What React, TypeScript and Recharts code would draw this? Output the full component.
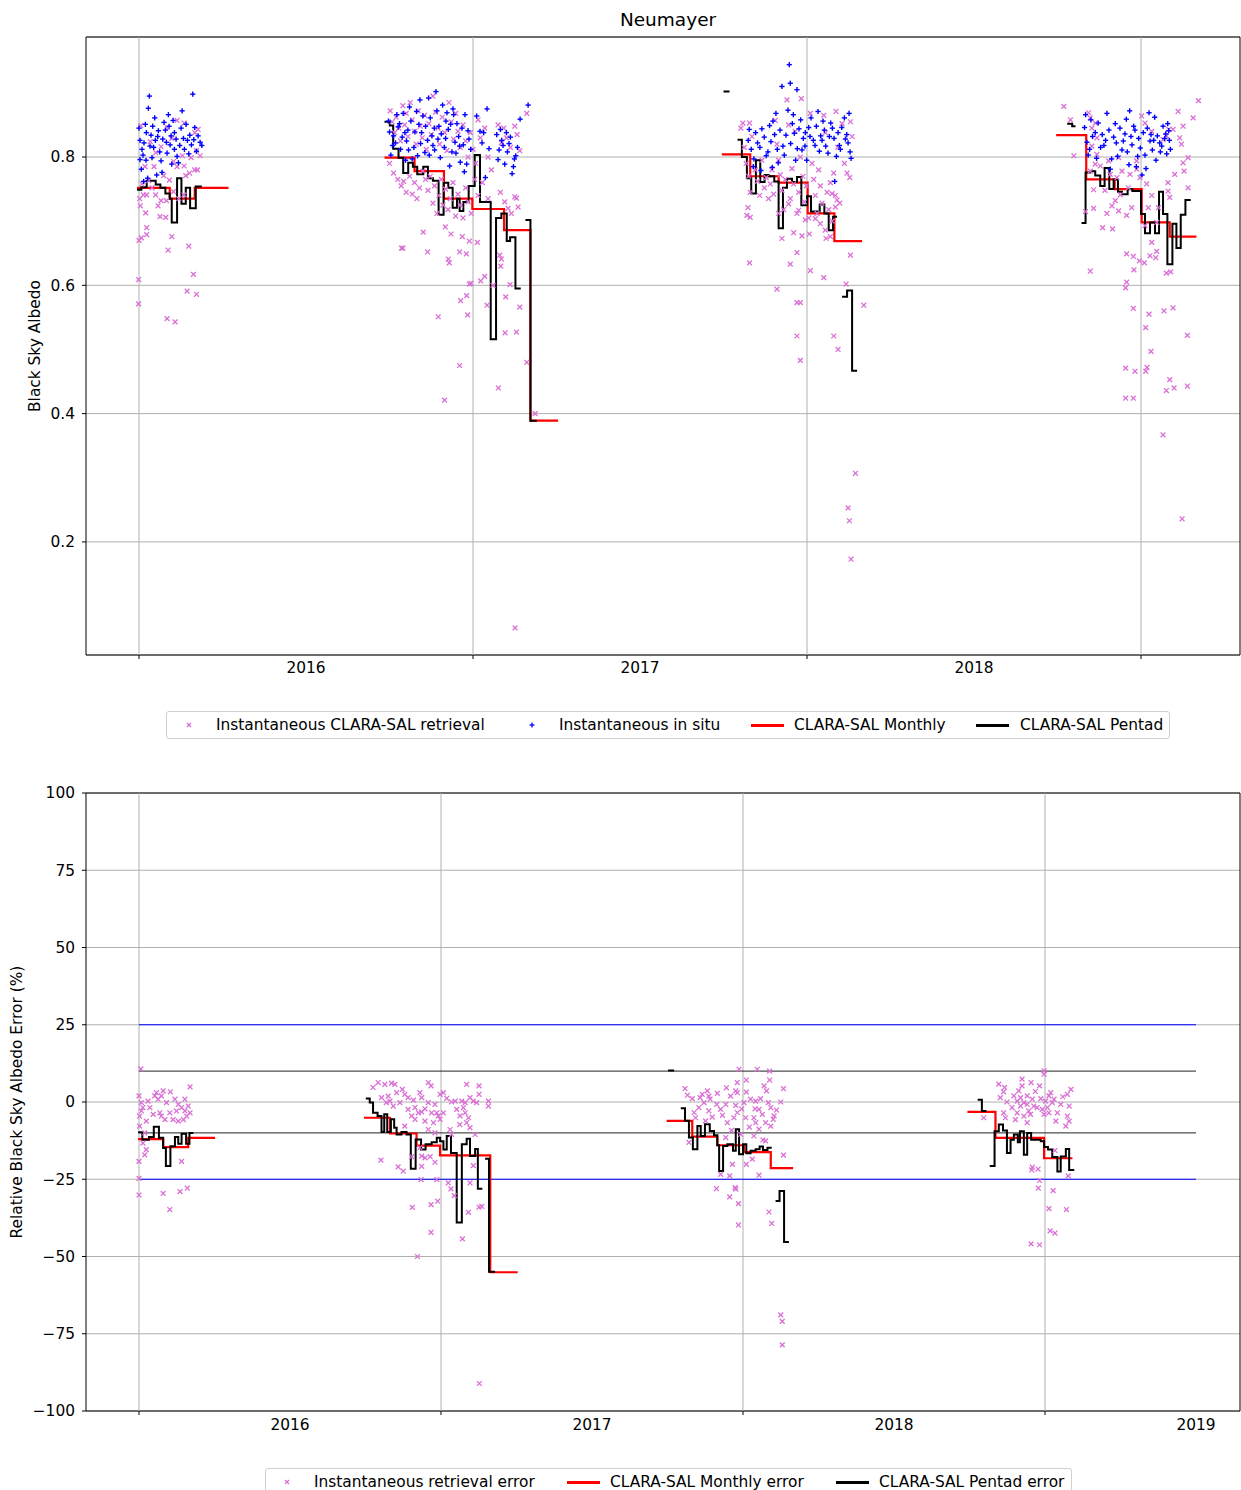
import React from 'react';
import { ComposedChart, XAxis, YAxis, CartesianGrid, Scatter, Line, ReferenceLine, ReferenceArea } from 'recharts';

const FONT = '"DejaVu Sans", "Liberation Sans", sans-serif';
const FS = 15.4;
const MAGENTA = '#da70d6';
const BLUE = '#0000ff';
const RED = '#ff0000';
const BLACK = '#000000';
const GRID = '#b0b0b0';

const TITLE = 'Neumayer';
const topYLabel = 'Black Sky Albedo';
const bottomYLabel = 'Relative Black Sky Albedo Error (%)';

// ---------- axes ----------
const topXDomain = [2015.3413, 2018.7964];
const bottomXDomain = [2015.3245, 2019.1457];
const topYDomain = [0.0237, 0.9871];
const bottomYDomain = [-100, 100];
const topXTicks = [2015.5, 2016, 2016.5, 2017, 2017.5, 2018, 2018.5];
const bottomXTicks = [2015.5, 2016, 2016.5, 2017, 2017.5, 2018, 2018.5, 2019];
const gridYears = [2015.5, 2016.5, 2017.5, 2018.5];
const topYTicks = [0.2, 0.4, 0.6, 0.8];
const bottomYTicks = [-100, -75, -50, -25, 0, 25, 50, 75, 100];

// ---------- top chart: instantaneous CLARA-SAL retrieval ----------
const topRetrieval1 = [
  [2015.505,0.849],[2015.584,0.846],[2015.614,0.857],[2015.635,0.853],[2015.677,0.843],[2015.667,0.838],[2015.683,0.802],[2015.672,0.810],
  [2015.550,0.807],[2015.566,0.816],[2015.518,0.785],[2015.614,0.785],[2015.635,0.786],[2015.651,0.775],[2015.667,0.780],[2015.675,0.780],
  [2015.640,0.771],[2015.603,0.793],[2015.545,0.785],[2015.513,0.741],[2015.502,0.735],[2015.504,0.724],[2015.520,0.713],[2015.523,0.741],
  [2015.557,0.724],[2015.566,0.732],[2015.550,0.741],[2015.582,0.732],[2015.563,0.707],[2015.580,0.706],[2015.523,0.690],[2015.523,0.679],
  [2015.500,0.670],[2015.507,0.674],[2015.598,0.676],[2015.587,0.655],[2015.649,0.661],[2015.663,0.617],[2015.499,0.609],[2015.499,0.571],
  [2015.644,0.591],[2015.672,0.586],[2015.584,0.548],[2015.608,0.543],[2015.534,0.824],[2015.598,0.829],[2015.630,0.802],[2015.656,0.799],
  [2015.539,0.752],[2015.619,0.735],[2015.603,0.746],[2015.635,0.741],[2015.529,0.763],[2015.574,0.771],[2015.509,0.758],[2015.591,0.764],
];
const topRetrieval2 = [
  [2016.252,0.872],[2016.258,0.855],[2016.265,0.838],[2016.270,0.862],[2016.278,0.845],[2016.283,0.825],[2016.290,0.880],[2016.295,0.850],
  [2016.300,0.868],[2016.305,0.832],[2016.312,0.885],[2016.318,0.858],[2016.325,0.840],[2016.330,0.820],[2016.336,0.872],[2016.342,0.848],
  [2016.348,0.830],[2016.355,0.865],[2016.360,0.812],[2016.368,0.852],[2016.375,0.835],[2016.380,0.895],[2016.388,0.870],[2016.395,0.845],
  [2016.400,0.820],[2016.408,0.862],[2016.415,0.838],[2016.422,0.810],[2016.428,0.885],[2016.435,0.855],[2016.442,0.828],[2016.448,0.868],
  [2016.455,0.840],[2016.462,0.815],[2016.470,0.850],[2016.478,0.825],[2016.485,0.800],[2016.492,0.838],[2016.500,0.812],[2016.508,0.790],
  [2016.515,0.858],[2016.522,0.830],[2016.535,0.845],[2016.545,0.800],[2016.555,0.780],[2016.575,0.850],[2016.585,0.822],[2016.592,0.845],
  [2016.600,0.830],[2016.612,0.815],[2016.625,0.848],[2016.632,0.835],[2016.640,0.810],[2016.661,0.868],
  [2016.250,0.790],[2016.262,0.775],[2016.275,0.765],[2016.285,0.755],[2016.292,0.762],[2016.300,0.745],[2016.310,0.770],[2016.318,0.742],
  [2016.325,0.760],[2016.332,0.735],[2016.340,0.752],[2016.350,0.778],[2016.358,0.765],[2016.365,0.748],[2016.372,0.770],[2016.380,0.728],
  [2016.385,0.755],[2016.392,0.712],[2016.398,0.740],[2016.405,0.765],[2016.410,0.725],[2016.418,0.750],[2016.425,0.718],[2016.432,0.735],
  [2016.440,0.760],[2016.448,0.708],[2016.455,0.742],[2016.462,0.725],[2016.470,0.705],[2016.478,0.752],[2016.485,0.730],[2016.495,0.712],
  [2016.505,0.765],[2016.515,0.740],[2016.528,0.760],[2016.545,0.735],[2016.582,0.745],[2016.595,0.730],[2016.605,0.720],[2016.625,0.738],
  [2016.635,0.722],
  [2016.351,0.683],[2016.286,0.658],[2016.290,0.658],[2016.364,0.652],[2016.426,0.641],[2016.429,0.635],[2016.417,0.691],[2016.434,0.680],
  [2016.468,0.676],[2016.489,0.669],[2016.513,0.667],[2016.460,0.652],[2016.480,0.649],[2016.580,0.647],[2016.535,0.614],[2016.523,0.607],
  [2016.489,0.602],[2016.494,0.603],[2016.481,0.584],[2016.463,0.576],[2016.611,0.601],[2016.598,0.582],[2016.542,0.569],[2016.640,0.566],
  [2016.396,0.551],[2016.484,0.554],[2016.596,0.526],[2016.630,0.527],[2016.661,0.480],[2016.460,0.475],[2016.576,0.440],[2016.415,0.421],
  [2016.686,0.400],[2016.626,0.066],[2016.560,0.600],[2016.583,0.630],[2016.585,0.641],[2016.615,0.712],[2016.630,0.736],
];
const topRetrieval3 = [
  [2017.302,0.845],[2017.308,0.853],[2017.328,0.853],[2017.335,0.832],[2017.312,0.815],[2017.318,0.790],[2017.325,0.770],[2017.330,0.745],
  [2017.345,0.780],[2017.352,0.762],[2017.358,0.740],[2017.365,0.795],[2017.372,0.752],[2017.378,0.768],[2017.385,0.735],[2017.390,0.758],
  [2017.395,0.780],[2017.400,0.742],[2017.405,0.857],[2017.410,0.820],[2017.415,0.795],[2017.420,0.772],[2017.425,0.748],[2017.430,0.718],
  [2017.435,0.765],[2017.440,0.889],[2017.445,0.850],[2017.450,0.735],[2017.455,0.782],[2017.460,0.758],[2017.465,0.840],[2017.470,0.712],
  [2017.475,0.745],[2017.480,0.800],[2017.483,0.891],[2017.488,0.770],[2017.492,0.730],[2017.498,0.755],[2017.505,0.705],[2017.510,0.868],
  [2017.515,0.790],[2017.520,0.765],[2017.525,0.740],[2017.530,0.712],[2017.535,0.780],[2017.540,0.755],[2017.545,0.728],[2017.550,0.865],
  [2017.555,0.838],[2017.560,0.745],[2017.565,0.718],[2017.570,0.760],[2017.575,0.700],[2017.580,0.775],[2017.585,0.740],[2017.587,0.871],
  [2017.592,0.815],[2017.598,0.728],[2017.605,0.852],[2017.612,0.790],[2017.620,0.775],[2017.628,0.768],[2017.630,0.855],[2017.635,0.832],
  [2017.323,0.721],[2017.330,0.706],[2017.320,0.709],[2017.425,0.673],[2017.460,0.682],[2017.485,0.677],[2017.507,0.680],[2017.557,0.673],
  [2017.570,0.676],[2017.328,0.635],[2017.410,0.594],[2017.450,0.633],[2017.470,0.651],[2017.510,0.623],[2017.550,0.612],[2017.617,0.602],
  [2017.630,0.647],[2017.670,0.569],[2017.470,0.573],[2017.480,0.573],[2017.470,0.521],[2017.580,0.521],[2017.593,0.500],[2017.480,0.483],
  [2017.645,0.307],[2017.623,0.253],[2017.627,0.233],[2017.632,0.173],[2017.415,0.712],[2017.445,0.727],[2017.475,0.717],[2017.495,0.702],
  [2017.525,0.704],[2017.540,0.696],[2017.555,0.686],[2017.585,0.722],[2017.590,0.733],[2017.575,0.743],
];
const topRetrieval4 = [
  [2018.269,0.879],[2018.672,0.888],[2018.289,0.858],[2018.343,0.869],[2018.348,0.861],[2018.363,0.853],[2018.353,0.845],[2018.368,0.830],
  [2018.353,0.817],[2018.368,0.804],[2018.363,0.789],[2018.348,0.778],[2018.378,0.786],[2018.403,0.794],[2018.433,0.799],[2018.408,0.773],
  [2018.428,0.768],[2018.443,0.778],[2018.467,0.773],[2018.487,0.781],[2018.487,0.794],[2018.502,0.864],[2018.512,0.853],[2018.532,0.840],
  [2018.497,0.768],[2018.517,0.758],[2018.532,0.740],[2018.552,0.721],[2018.522,0.721],[2018.472,0.721],[2018.457,0.709],[2018.433,0.716],
  [2018.413,0.724],[2018.423,0.732],[2018.385,0.690],[2018.415,0.688],[2018.358,0.720],[2018.334,0.715],[2018.358,0.749],[2018.299,0.802],
  [2018.611,0.871],[2018.626,0.848],[2018.656,0.861],[2018.583,0.843],[2018.596,0.843],[2018.576,0.833],[2018.621,0.820],[2018.616,0.830],
  [2018.566,0.827],[2018.641,0.799],[2018.629,0.778],[2018.626,0.791],[2018.601,0.773],[2018.581,0.760],[2018.581,0.747],[2018.586,0.737],
  [2018.641,0.752],[2018.547,0.698],[2018.512,0.693],[2018.532,0.667],[2018.457,0.649],[2018.477,0.645],[2018.495,0.638],[2018.510,0.635],
  [2018.527,0.646],[2018.547,0.653],[2018.544,0.643],[2018.479,0.624],[2018.348,0.622],[2018.576,0.619],[2018.589,0.621],[2018.454,0.596],
  [2018.457,0.605],[2018.477,0.564],[2018.524,0.555],[2018.514,0.534],[2018.530,0.497],[2018.569,0.560],[2018.596,0.565],[2018.639,0.522],
  [2018.454,0.471],[2018.482,0.466],[2018.514,0.466],[2018.518,0.472],[2018.586,0.453],[2018.576,0.436],[2018.599,0.440],[2018.639,0.443],
  [2018.454,0.424],[2018.477,0.424],[2018.566,0.367],[2018.623,0.236],[2018.392,0.748],[2018.438,0.741],[2018.462,0.752],[2018.398,0.712],
];

// ---------- top chart: instantaneous in situ ----------
const topInSitu1 = [
  [2015.512,0.803],[2015.547,0.861],[2015.598,0.789],[2015.531,0.895],[2015.661,0.898],[2015.503,0.826],[2015.579,0.842],[2015.622,0.818],
  [2015.553,0.772],[2015.641,0.851],[2015.507,0.781],[2015.588,0.866],[2015.536,0.834],[2015.672,0.809],[2015.519,0.851],[2015.606,0.838],
  [2015.566,0.794],[2015.629,0.872],[2015.544,0.815],[2015.683,0.823],[2015.500,0.845],[2015.571,0.828],[2015.614,0.801],[2015.526,0.767],
  [2015.652,0.834],[2015.593,0.819],[2015.539,0.799],[2015.667,0.846],[2015.515,0.822],[2015.602,0.857],[2015.558,0.841],[2015.636,0.812],
  [2015.584,0.806],[2015.522,0.838],[2015.677,0.833],[2015.549,0.826],[2015.611,0.828],[2015.509,0.812],[2015.575,0.854],[2015.645,0.826],
  [2015.533,0.817],[2015.562,0.808],[2015.626,0.845],[2015.503,0.796],[2015.596,0.833],[2015.657,0.819],[2015.541,0.848],[2015.618,0.791],
  [2015.569,0.776],[2015.688,0.818],[2015.528,0.876],[2015.582,0.823],[2015.649,0.805],[2015.514,0.762],[2015.556,0.832],[2015.606,0.812],
  [2015.633,0.829],[2015.521,0.795],[2015.590,0.848],[2015.664,0.827],
];
const topInSitu2 = [
  [2016.247,0.856],[2016.283,0.812],[2016.331,0.871],[2016.262,0.833],[2016.398,0.848],[2016.356,0.807],[2016.442,0.866],[2016.305,0.842],
  [2016.471,0.819],[2016.254,0.803],[2016.389,0.902],[2016.418,0.829],[2016.291,0.868],[2016.346,0.838],[2016.462,0.792],[2016.372,0.861],
  [2016.323,0.815],[2016.485,0.841],[2016.276,0.847],[2016.409,0.881],[2016.437,0.808],[2016.364,0.826],[2016.298,0.795],[2016.452,0.852],
  [2016.341,0.889],[2016.268,0.822],[2016.426,0.843],[2016.380,0.818],[2016.314,0.856],[2016.476,0.866],[2016.250,0.839],[2016.402,0.799],
  [2016.358,0.848],[2016.288,0.831],[2016.446,0.823],[2016.334,0.802],[2016.392,0.872],[2016.467,0.845],[2016.310,0.878],[2016.419,0.856],
  [2016.377,0.833],[2016.272,0.866],[2016.430,0.786],[2016.350,0.864],[2016.493,0.812],[2016.301,0.825],[2016.457,0.832],[2016.385,0.811],
  [2016.326,0.839],[2016.414,0.815],[2016.367,0.892],[2016.280,0.852],[2016.440,0.875],[2016.318,0.797],[2016.481,0.789],[2016.405,0.836],
  [2016.259,0.818],[2016.433,0.851],[2016.343,0.821],[2016.395,0.828],[2016.369,0.803],[2016.449,0.806],[2016.296,0.838],[2016.422,0.869],
  [2016.488,0.828],[2016.338,0.851],[2016.460,0.817],[2016.307,0.811],[2016.384,0.845],[2016.474,0.777],
  [2016.511,0.864],[2016.521,0.840],[2016.532,0.838],[2016.542,0.875],[2016.548,0.813],[2016.537,0.768],[2016.527,0.822],
  [2016.571,0.835],[2016.603,0.808],[2016.586,0.826],[2016.624,0.797],[2016.578,0.811],[2016.612,0.831],[2016.595,0.789],[2016.633,0.815],
  [2016.582,0.843],[2016.617,0.774],[2016.590,0.818],[2016.628,0.802],[2016.600,0.838],[2016.575,0.796],[2016.608,0.821],[2016.621,0.785],
  [2016.641,0.859],[2016.665,0.881],
];
const topInSitu3 = [
  [2017.324,0.826],[2017.398,0.856],[2017.471,0.813],[2017.552,0.842],[2017.341,0.797],[2017.437,0.834],[2017.512,0.861],[2017.597,0.818],
  [2017.365,0.844],[2017.447,0.944],[2017.450,0.915],[2017.425,0.910],[2017.470,0.905],[2017.383,0.808],[2017.489,0.829],[2017.563,0.806],
  [2017.619,0.835],[2017.352,0.822],[2017.414,0.791],[2017.528,0.848],[2017.581,0.829],[2017.333,0.812],[2017.407,0.868],[2017.456,0.852],
  [2017.537,0.809],[2017.604,0.846],[2017.372,0.831],[2017.428,0.817],[2017.499,0.795],[2017.571,0.853],[2017.629,0.808],[2017.346,0.838],
  [2017.392,0.824],[2017.462,0.837],[2017.519,0.826],[2017.588,0.801],[2017.378,0.802],[2017.443,0.873],[2017.505,0.846],[2017.545,0.826],
  [2017.612,0.861],[2017.359,0.815],[2017.419,0.842],[2017.481,0.858],[2017.556,0.817],[2017.623,0.822],[2017.339,0.785],[2017.403,0.835],
  [2017.466,0.795],[2017.533,0.871],[2017.593,0.838],[2017.388,0.849],[2017.451,0.821],[2017.495,0.838],[2017.567,0.832],[2017.632,0.798],
  [2017.327,0.843],[2017.432,0.803],[2017.476,0.844],[2017.541,0.833],[2017.600,0.812],[2017.362,0.779],[2017.411,0.812],[2017.485,0.811],
  [2017.524,0.818],[2017.576,0.845],[2017.615,0.828],[2017.396,0.784],[2017.459,0.866],[2017.509,0.832],[2017.583,0.762],[2017.548,0.856],
  [2017.626,0.868],[2017.494,0.817],
];
const topInSitu4 = [
  [2018.331,0.846],[2018.389,0.818],[2018.452,0.836],[2018.512,0.803],[2018.571,0.829],[2018.346,0.812],[2018.398,0.868],[2018.466,0.872],
  [2018.527,0.825],[2018.583,0.841],[2018.355,0.832],[2018.412,0.797],[2018.478,0.848],[2018.541,0.862],[2018.588,0.812],[2018.338,0.823],
  [2018.404,0.842],[2018.459,0.808],[2018.519,0.845],[2018.562,0.817],[2018.372,0.853],[2018.426,0.822],[2018.486,0.785],[2018.549,0.833],
  [2018.577,0.805],[2018.342,0.803],[2018.418,0.831],[2018.473,0.819],[2018.534,0.811],[2018.566,0.848],[2018.363,0.838],[2018.437,0.845],
  [2018.493,0.829],[2018.503,0.772],[2018.556,0.822],[2018.379,0.815],[2018.443,0.811],[2018.507,0.838],[2018.545,0.795],[2018.585,0.826],
  [2018.350,0.858],[2018.430,0.801],[2018.482,0.842],[2018.524,0.869],[2018.574,0.836],[2018.367,0.798],[2018.423,0.852],[2018.464,0.788],
  [2018.498,0.814],[2018.538,0.826],[2018.384,0.835],[2018.447,0.825],[2018.515,0.782],[2018.558,0.808],[2018.334,0.866],[2018.394,0.826],
  [2018.456,0.859],[2018.490,0.801],[2018.530,0.835],[2018.580,0.852],[2018.408,0.781],[2018.470,0.832],
];

// ---------- top chart: CLARA-SAL monthly / pentad (step starts; null = gap) ----------
const topMonthly1 = [[2015.494,0.752],[2015.592,0.735],[2015.667,0.752],[2015.768,0.752]];
const topMonthly2 = [[2016.235,0.799],[2016.325,0.778],[2016.413,0.735],[2016.498,0.719],[2016.593,0.686],[2016.672,0.389],[2016.755,0.389]];
const topMonthly3 = [[2017.245,0.804],[2017.330,0.770],[2017.415,0.760],[2017.502,0.712],[2017.582,0.669],[2017.665,0.669]];
const topMonthly4 = [[2018.246,0.834],[2018.336,0.765],[2018.421,0.750],[2018.502,0.698],[2018.586,0.676],[2018.666,0.676]];

const topPentad1 = [
  [2015.494,0.749],[2015.507,0.753],[2015.523,0.763],[2015.550,0.757],[2015.564,0.752],[2015.579,0.743],[2015.592,0.735],[2015.598,0.698],
  [2015.614,0.767],[2015.627,0.727],[2015.640,0.752],[2015.653,0.720],[2015.670,0.754],[2015.688,0.754],
];
const topPentad2 = [
  [2016.235,0.855],[2016.251,0.849],[2016.261,0.813],[2016.277,0.799],[2016.291,0.775],[2016.306,0.791],[2016.320,0.785],[2016.333,0.773],
  [2016.351,0.785],[2016.365,0.767],[2016.380,0.763],[2016.397,0.710],[2016.412,0.760],[2016.426,0.752],[2016.439,0.721],[2016.452,0.735],
  [2016.460,0.716],[2016.471,0.730],[2016.487,0.755],[2016.505,0.803],[2016.521,0.730],[2016.553,0.516],[2016.569,0.705],[2016.585,0.712],
  [2016.601,0.669],[2016.611,0.675],[2016.627,0.595],[2016.643,0.595],[2016.650,null],
  [2016.657,0.702],[2016.672,0.389],[2016.691,0.389],
];
const topPentad3 = [
  [2017.250,0.902],[2017.268,0.902],[2017.280,null],
  [2017.292,0.827],[2017.305,0.800],[2017.320,0.767],[2017.333,0.743],[2017.347,0.795],[2017.360,0.761],[2017.373,0.772],[2017.385,0.770],
  [2017.402,0.762],[2017.415,0.689],[2017.428,0.752],[2017.440,0.766],[2017.455,0.761],[2017.470,0.769],[2017.483,0.725],[2017.500,0.739],
  [2017.512,0.715],[2017.538,0.726],[2017.552,0.712],[2017.565,0.686],[2017.578,0.707],[2017.590,0.707],[2017.598,null],
  [2017.605,0.582],[2017.620,0.592],[2017.635,0.467],[2017.650,0.467],
];
const topPentad4 = [
  [2018.279,0.852],[2018.294,0.848],[2018.304,0.848],[2018.312,null],
  [2018.322,0.697],[2018.334,0.776],[2018.348,0.778],[2018.363,0.771],[2018.378,0.755],[2018.391,0.783],[2018.405,0.750],[2018.418,0.765],
  [2018.431,0.746],[2018.443,0.742],[2018.460,0.750],[2018.474,0.747],[2018.500,0.711],[2018.512,0.681],[2018.527,0.698],[2018.542,0.681],
  [2018.554,0.746],[2018.566,0.711],[2018.579,0.633],[2018.594,0.696],[2018.606,0.658],[2018.619,0.710],[2018.633,0.733],[2018.649,0.733],
];

// ---------- bottom chart: instantaneous retrieval error (%) ----------
const botRetrieval1 = [
  [2015.506,10.7],[2015.669,4.9],[2015.580,3.6],[2015.604,3.3],[2015.500,2.0],[2015.508,-0.2],[2015.513,-1.8],[2015.530,0.3],
  [2015.552,2.0],[2015.563,0.9],[2015.569,-3.5],[2015.591,-0.2],[2015.619,0.9],[2015.630,-0.8],[2015.641,-1.8],[2015.652,-2.9],
  [2015.663,-1.3],[2015.669,-3.5],[2015.613,-5.7],[2015.630,-6.2],[2015.647,-5.7],[2015.574,-4.6],[2015.524,-6.2],[2015.502,-7.8],
  [2015.524,-15.4],[2015.519,-17.1],[2015.500,-19.2],[2015.500,-24.7],[2015.500,-30.1],[2015.580,-29.6],[2015.636,-29.0],[2015.660,-27.9],
  [2015.602,-34.8],[2015.641,-19.2],[2015.536,-1.8],[2015.547,-4.0],[2015.558,3.0],[2015.574,2.0],[2015.586,-5.7],[2015.602,-3.5],
  [2015.624,-2.9],[2015.508,-2.9],[2015.502,-4.6],[2015.519,-10.0],[2015.513,-13.3],[2015.652,0.9],[2015.658,-4.6],
];
const botRetrieval2 = [
  [2016.292,6.3],[2016.275,4.7],[2016.314,5.7],[2016.336,6.1],[2016.347,5.7],[2016.458,6.3],[2016.467,5.2],[2016.585,5.7],
  [2016.626,5.2],[2016.626,2.5],[2016.657,0.3],[2016.657,-1.3],[2016.303,1.4],[2016.325,1.9],[2016.331,0.3],[2016.380,2.5],
  [2016.391,1.4],[2016.430,3.0],[2016.436,1.4],[2016.497,2.5],[2016.508,3.0],[2016.535,0.0],[2016.547,0.3],[2016.569,0.3],
  [2016.580,-0.2],[2016.596,1.4],[2016.607,0.3],[2016.618,-0.2],[2016.414,-1.8],[2016.425,-3.5],[2016.436,-3.2],[2016.447,-2.2],
  [2016.486,-3.5],[2016.491,-4.5],[2016.414,-5.6],[2016.380,-7.8],[2016.447,-6.2],[2016.475,-6.7],[2016.530,-8.9],[2016.535,-10.5],
  [2016.580,-3.5],[2016.591,-5.1],[2016.596,-8.3],[2016.613,-10.5],[2016.301,-18.8],[2016.358,-21.0],[2016.375,-22.4],[2016.436,-17.5],
  [2016.447,-18.1],[2016.464,-17.7],[2016.480,-19.5],[2016.403,-17.7],[2016.436,-20.8],[2016.434,-25.1],[2016.486,-25.1],[2016.524,-26.2],
  [2016.533,-28.1],[2016.544,-30.3],[2016.607,-20.6],[2016.596,-26.2],[2016.489,-32.1],[2016.467,-33.2],[2016.405,-34.1],[2016.591,-35.7],
  [2016.626,-34.0],[2016.635,-33.8],[2016.467,-42.2],[2016.571,-44.3],[2016.422,-50.0],[2016.627,-91.1],
  [2016.319,-0.2],[2016.342,-1.3],[2016.353,3.0],[2016.364,-0.2],[2016.391,-2.4],[2016.403,-4.5],[2016.458,-0.2],[2016.469,-3.5],
  [2016.480,-0.8],[2016.497,-5.6],[2016.508,-3.5],[2016.552,-2.4],[2016.563,-4.5],[2016.574,-1.8],[2016.585,-6.7],[2016.458,-8.9],
  [2016.480,-10.0],[2016.430,-14.8],[2016.372,4.1],[2016.409,0.6],[2016.519,1.2],[2016.562,-7.3],
];
const botRetrieval3 = [
  [2017.487,10.6],[2017.547,10.6],[2017.588,10.0],[2017.588,7.1],[2017.511,7.1],[2017.481,6.3],[2017.634,4.3],[2017.308,4.3],
  [2017.316,2.2],[2017.332,1.1],[2017.358,1.4],[2017.382,3.6],[2017.387,1.9],[2017.415,2.8],[2017.445,4.6],[2017.476,3.6],
  [2017.481,3.0],[2017.511,3.2],[2017.542,0.3],[2017.558,1.1],[2017.570,5.2],[2017.578,3.6],[2017.625,0.0],[2017.354,-1.8],
  [2017.371,-0.2],[2017.387,-2.9],[2017.413,-0.8],[2017.443,-0.8],[2017.476,-1.1],[2017.496,-2.2],[2017.540,-2.2],[2017.553,-2.4],
  [2017.592,-1.8],[2017.603,-4.5],[2017.338,-3.4],[2017.343,-5.1],[2017.376,-6.1],[2017.432,-4.3],[2017.470,-5.1],[2017.509,-5.1],
  [2017.536,-5.1],[2017.542,-6.7],[2017.575,-6.7],[2017.592,-7.8],[2017.321,-13.1],[2017.443,-11.5],[2017.492,-10.5],[2017.536,-11.0],
  [2017.566,-12.3],[2017.575,-12.6],[2017.426,-23.4],[2017.456,-23.9],[2017.465,-20.2],[2017.511,-20.2],[2017.531,-18.5],[2017.553,-23.7],
  [2017.412,-28.0],[2017.474,-27.7],[2017.476,-28.2],[2017.456,-30.7],[2017.485,-32.9],[2017.485,-39.8],[2017.586,-35.6],[2017.595,-39.3],
  [2017.634,-17.2],[2017.625,-68.9],[2017.630,-71.0],[2017.630,-78.6],
  [2017.365,2.5],[2017.391,0.9],[2017.426,-2.4],[2017.459,1.9],[2017.503,-0.2],[2017.525,0.9],[2017.564,-4.0],[2017.584,-0.2],
  [2017.600,-5.6],[2017.448,-6.7],[2017.481,-3.4],[2017.553,-8.8],[2017.398,-4.9],[2017.521,-8.1],[2017.462,-9.2],[2017.611,-2.6],
];
const botRetrieval4 = [
  [2018.497,10.1],[2018.497,9.0],[2018.347,5.8],[2018.424,7.4],[2018.454,6.3],[2018.482,5.2],[2018.366,4.7],[2018.424,5.2],
  [2018.363,3.3],[2018.352,1.4],[2018.519,3.0],[2018.513,2.0],[2018.586,4.1],[2018.574,2.5],[2018.374,0.0],[2018.408,0.3],
  [2018.419,1.4],[2018.441,2.0],[2018.458,0.9],[2018.486,1.1],[2018.524,-0.2],[2018.419,-1.3],[2018.441,-0.8],[2018.474,-1.8],
  [2018.508,-1.8],[2018.541,-3.5],[2018.580,-1.3],[2018.574,-4.6],[2018.363,-3.5],[2018.369,-5.1],[2018.408,-3.5],[2018.430,-4.6],
  [2018.452,-4.0],[2018.497,-4.0],[2018.536,-6.2],[2018.569,-7.8],[2018.580,-6.2],[2018.297,-5.1],[2018.441,-6.7],[2018.458,-21.1],
  [2018.456,-22.0],[2018.477,-21.7],[2018.482,-25.4],[2018.478,-27.9],[2018.533,-15.7],[2018.527,-28.7],[2018.513,-34.5],[2018.571,-34.8],
  [2018.517,-41.7],[2018.533,-42.4],[2018.454,-45.9],[2018.482,-46.2],[2018.577,-23.9],
  [2018.397,2.0],[2018.413,3.6],[2018.430,-0.2],[2018.463,-1.3],[2018.491,-2.4],[2018.502,0.3],[2018.513,-3.5],[2018.530,0.9],
  [2018.552,-0.8],[2018.391,-1.8],[2018.402,-5.7],[2018.468,3.4],[2018.446,-2.9],[2018.559,1.7],
];

// ---------- bottom chart: monthly / pentad error ----------
const botMonthly1 = [[2015.497,-12.0],[2015.580,-14.6],[2015.663,-11.6],[2015.752,-11.6]];
const botMonthly2 = [[2016.245,-5.1],[2016.331,-10.2],[2016.419,-14.1],[2016.497,-17.3],[2016.663,-55.1],[2016.754,-55.1]];
const botMonthly3 = [[2017.247,-6.1],[2017.332,-11.2],[2017.415,-14.0],[2017.503,-16.2],[2017.592,-21.4],[2017.666,-21.4]];
const botMonthly4 = [[2018.243,-3.2],[2018.336,-11.6],[2018.497,-18.2],[2018.591,-18.2]];

const botPentad1 = [
  [2015.497,-9.8],[2015.511,-12.2],[2015.533,-11.3],[2015.549,-8.0],[2015.566,-11.6],[2015.580,-14.9],[2015.589,-20.7],[2015.604,-14.3],
  [2015.619,-11.3],[2015.630,-13.5],[2015.641,-10.3],[2015.656,-13.5],[2015.667,-10.0],[2015.680,-10.0],
];
const botPentad2 = [
  [2016.251,1.1],[2016.264,-0.2],[2016.275,-3.5],[2016.290,-4.5],[2016.303,-9.7],[2016.312,-4.0],[2016.322,-9.7],[2016.334,-5.6],
  [2016.345,-8.3],[2016.353,-10.5],[2016.369,-9.7],[2016.386,-10.5],[2016.400,-21.6],[2016.416,-12.1],[2016.434,-15.4],[2016.449,-13.7],
  [2016.469,-13.0],[2016.486,-11.6],[2016.497,-12.7],[2016.508,-15.4],[2016.519,-11.0],[2016.533,-16.5],[2016.552,-39.0],[2016.569,-13.7],
  [2016.585,-11.9],[2016.596,-17.5],[2016.613,-15.2],[2016.622,-28.1],[2016.637,-28.1],[2016.641,null],
  [2016.646,-18.4],[2016.659,-54.9],[2016.679,-54.9],
];
const botPentad3 = [
  [2017.252,10.2],[2017.272,10.2],[2017.283,null],
  [2017.294,-2.0],[2017.308,-6.1],[2017.321,-11.5],[2017.334,-15.3],[2017.349,-7.8],[2017.360,-11.0],[2017.374,-7.2],[2017.390,-9.4],
  [2017.404,-10.8],[2017.415,-14.0],[2017.421,-22.3],[2017.434,-14.2],[2017.448,-13.7],[2017.467,-15.8],[2017.476,-8.8],[2017.487,-16.9],
  [2017.500,-13.7],[2017.511,-16.6],[2017.525,-15.8],[2017.542,-15.3],[2017.555,-14.4],[2017.566,-15.5],[2017.581,-14.8],[2017.595,-14.8],
  [2017.601,null],
  [2017.608,-32.0],[2017.621,-28.8],[2017.636,-45.3],[2017.652,-45.3],
];
const botPentad4 = [
  [2018.277,0.7],[2018.291,-2.9],[2018.306,-2.9],[2018.311,null],
  [2018.317,-20.7],[2018.333,-9.5],[2018.347,-7.3],[2018.361,-9.2],[2018.374,-16.5],[2018.386,-12.2],[2018.397,-10.5],[2018.410,-13.0],
  [2018.417,-9.5],[2018.430,-17.1],[2018.441,-10.0],[2018.454,-12.2],[2018.486,-12.7],[2018.497,-14.6],[2018.510,-15.4],[2018.524,-17.8],
  [2018.541,-22.5],[2018.552,-17.6],[2018.569,-15.2],[2018.580,-22.0],[2018.597,-22.0],
];

// threshold lines on the error panel
const thresholdLevels = [25, 10, -10, -25];
const thresholdColors = ['#0000ff', '#222222', '#222222', '#0000ff'];
const thresholdStart = 2015.5;
const thresholdEnd = 2019.0;

const topLegendLabels = ['Instantaneous CLARA-SAL retrieval', 'Instantaneous in situ', 'CLARA-SAL Monthly', 'CLARA-SAL Pentad'];
const bottomLegendLabels = ['Instantaneous retrieval error', 'CLARA-SAL Monthly error', 'CLARA-SAL Pentad error'];

// ---------- helpers ----------
const toObjs = (arr: any[]) => arr.map(([x, y]) => ({ x, y }));

const XMark = (props: any) => {
  const { cx, cy } = props;
  if (cx == null || cy == null || isNaN(cx) || isNaN(cy)) return null;
  const r = 2.4;
  return (
    <g>
      <line x1={cx - r} y1={cy - r} x2={cx + r} y2={cy + r} stroke={MAGENTA} strokeWidth={1.3} />
      <line x1={cx - r} y1={cy + r} x2={cx + r} y2={cy - r} stroke={MAGENTA} strokeWidth={1.3} />
    </g>
  );
};
const PlusMark = (props: any) => {
  const { cx, cy } = props;
  if (cx == null || cy == null || isNaN(cx) || isNaN(cy)) return null;
  const r = 2.6;
  return (
    <g>
      <line x1={cx - r} y1={cy} x2={cx + r} y2={cy} stroke={BLUE} strokeWidth={1.4} />
      <line x1={cx} y1={cy - r} x2={cx} y2={cy + r} stroke={BLUE} strokeWidth={1.4} />
    </g>
  );
};

const makeXTick = (labelOffset: number) => (props: any) => {
  const { x, y, payload } = props;
  const v = payload.value;
  if (Math.abs(v - Math.round(v)) > 0.01) {
    return <line x1={x} x2={x} y1={y} y2={y + 4} stroke={BLACK} strokeWidth={1} />;
  }
  return (
    <text x={x} y={y + labelOffset} textAnchor="middle" fontSize={FS} fill={BLACK} fontFamily={FONT}>
      {String(Math.round(v))}
    </text>
  );
};

const fmtTop = (v: number) => v.toFixed(1);
const fmtBottom = (v: number) => (v < 0 ? '\u2212' + Math.abs(v) : String(v));

const yTickStyle = { fontSize: FS, fill: BLACK, fontFamily: FONT };

const topScatterMag = [topRetrieval1, topRetrieval2, topRetrieval3, topRetrieval4];
const topScatterBlue = [topInSitu1, topInSitu2, topInSitu3, topInSitu4];
const topMonthly = [topMonthly1, topMonthly2, topMonthly3, topMonthly4];
const topPentad = [topPentad1, topPentad2, topPentad3, topPentad4];
const botScatter = [botRetrieval1, botRetrieval2, botRetrieval3, botRetrieval4];
const botMonthly = [botMonthly1, botMonthly2, botMonthly3, botMonthly4];
const botPentad = [botPentad1, botPentad2, botPentad3, botPentad4];

const legendText: React.CSSProperties = {
  position: 'absolute', top: 0, height: 26, lineHeight: '26px', fontSize: FS, color: '#000', whiteSpace: 'nowrap', fontFamily: FONT,
};

const LegendX = ({ left }: { left: number }) => (
  <svg style={{ position: 'absolute', left: left - 4, top: 9 }} width={8} height={8}>
    <line x1={2} y1={2} x2={6} y2={6} stroke={MAGENTA} strokeWidth={1.2} />
    <line x1={2} y1={6} x2={6} y2={2} stroke={MAGENTA} strokeWidth={1.2} />
  </svg>
);
const LegendPlus = ({ left }: { left: number }) => (
  <svg style={{ position: 'absolute', left: left - 4, top: 9 }} width={8} height={8}>
    <line x1={1.5} y1={4} x2={6.5} y2={4} stroke={BLUE} strokeWidth={1.3} />
    <line x1={4} y1={1.5} x2={4} y2={6.5} stroke={BLUE} strokeWidth={1.3} />
  </svg>
);
const LegendLine = ({ left, color }: { left: number; color: string }) => (
  <div style={{ position: 'absolute', left, top: 12, width: 33, height: 3, background: color }} />
);

export default function App() {
  return (
    <div style={{ position: 'absolute', left: 0, top: 0, width: 1241, height: 1490, overflow: 'hidden', background: '#fff', fontFamily: FONT }}>
      {/* title */}
      <div style={{ position: 'absolute', left: 468, top: 8, width: 400, textAlign: 'center', fontSize: 18.5, lineHeight: '24px', color: '#000' }}>
        {TITLE}
      </div>
      {/* y labels */}
      <div style={{ position: 'absolute', left: 35 - 150, top: 346 - 10, width: 300, height: 20, lineHeight: '20px', textAlign: 'center', fontSize: FS, transform: 'rotate(-90deg)', color: '#000' }}>
        {topYLabel}
      </div>
      <div style={{ position: 'absolute', left: 17 - 200, top: 1102 - 10, width: 400, height: 20, lineHeight: '20px', textAlign: 'center', fontSize: FS, transform: 'rotate(-90deg)', color: '#000' }}>
        {bottomYLabel}
      </div>

      {/* top chart */}
      <div style={{ position: 'absolute', left: 0, top: 0 }}>
        <ComposedChart width={1241} height={700} margin={{ top: 37, right: 1, bottom: 15, left: 26 }}>
          <CartesianGrid horizontal={true} vertical={false} stroke={GRID} strokeWidth={1} />
          <XAxis dataKey="x" type="number" domain={topXDomain} allowDataOverflow ticks={topXTicks} interval={0}
            tickLine={false} axisLine={false} tickSize={0} tickMargin={0} height={30} tick={makeXTick(18)} />
          <YAxis dataKey="y" type="number" domain={topYDomain} allowDataOverflow ticks={topYTicks} interval={0}
            tickFormatter={fmtTop} width={60} axisLine={false} tickLine={{ stroke: BLACK }} tickSize={4} tickMargin={7} tick={yTickStyle} />
          {gridYears.map((g) => (
            <ReferenceLine key={'tg' + g} x={g} stroke={GRID} strokeWidth={1} />
          ))}
          {topScatterMag.map((d, i) => (
            <Scatter key={'tm' + i} data={toObjs(d)} dataKey="y" isAnimationActive={false} shape={(p: any) => <XMark {...p} />} />
          ))}
          {topScatterBlue.map((d, i) => (
            <Scatter key={'tb' + i} data={toObjs(d)} dataKey="y" isAnimationActive={false} shape={(p: any) => <PlusMark {...p} />} />
          ))}
          {topMonthly.map((d, i) => (
            <Line key={'tmo' + i} data={toObjs(d)} dataKey="y" type="stepAfter" stroke={RED} strokeWidth={2.2} dot={false} activeDot={false} isAnimationActive={false} connectNulls={false} />
          ))}
          {topPentad.map((d, i) => (
            <Line key={'tpe' + i} data={toObjs(d)} dataKey="y" type="stepAfter" stroke={BLACK} strokeWidth={2} dot={false} activeDot={false} isAnimationActive={false} connectNulls={false} />
          ))}
          <ReferenceArea x1={topXDomain[0]} x2={topXDomain[1]} y1={topYDomain[0]} y2={topYDomain[1]} fill="none" fillOpacity={0} stroke={BLACK} strokeWidth={1} ifOverflow="visible" />
        </ComposedChart>
      </div>

      {/* top legend */}
      <div style={{ position: 'absolute', left: 166, top: 711, width: 1002, height: 26, border: '1px solid #d0d0d0', borderRadius: 3, background: '#fff' }}>
        <LegendX left={22} />
        <div style={{ ...legendText, left: 49 }}>{topLegendLabels[0]}</div>
        <LegendPlus left={365} />
        <div style={{ ...legendText, left: 392 }}>{topLegendLabels[1]}</div>
        <LegendLine left={584} color={RED} />
        <div style={{ ...legendText, left: 627 }}>{topLegendLabels[2]}</div>
        <LegendLine left={809} color={BLACK} />
        <div style={{ ...legendText, left: 853 }}>{topLegendLabels[3]}</div>
      </div>

      {/* bottom chart */}
      <div style={{ position: 'absolute', left: 0, top: 760 }}>
        <ComposedChart width={1241} height={700} margin={{ top: 33, right: 1, bottom: 19, left: 26 }}>
          <CartesianGrid horizontal={true} vertical={false} stroke={GRID} strokeWidth={1} />
          <XAxis dataKey="x" type="number" domain={bottomXDomain} allowDataOverflow ticks={bottomXTicks} interval={0}
            tickLine={false} axisLine={false} tickSize={0} tickMargin={0} height={30} tick={makeXTick(19)} />
          <YAxis dataKey="y" type="number" domain={bottomYDomain} allowDataOverflow ticks={bottomYTicks} interval={0}
            tickFormatter={fmtBottom} width={60} axisLine={false} tickLine={{ stroke: BLACK }} tickSize={4} tickMargin={7} tick={yTickStyle} />
          {gridYears.map((g) => (
            <ReferenceLine key={'bg' + g} x={g} stroke={GRID} strokeWidth={1} />
          ))}
          {thresholdLevels.map((lvl, i) => (
            <Line key={'th' + i} data={[{ x: thresholdStart, y: lvl }, { x: thresholdEnd, y: lvl }]} dataKey="y" type="linear"
              stroke={thresholdColors[i]} strokeWidth={1} dot={false} activeDot={false} isAnimationActive={false} />
          ))}
          {botScatter.map((d, i) => (
            <Scatter key={'bm' + i} data={toObjs(d)} dataKey="y" isAnimationActive={false} shape={(p: any) => <XMark {...p} />} />
          ))}
          {botMonthly.map((d, i) => (
            <Line key={'bmo' + i} data={toObjs(d)} dataKey="y" type="stepAfter" stroke={RED} strokeWidth={2.2} dot={false} activeDot={false} isAnimationActive={false} connectNulls={false} />
          ))}
          {botPentad.map((d, i) => (
            <Line key={'bpe' + i} data={toObjs(d)} dataKey="y" type="stepAfter" stroke={BLACK} strokeWidth={2} dot={false} activeDot={false} isAnimationActive={false} connectNulls={false} />
          ))}
          <ReferenceArea x1={bottomXDomain[0]} x2={bottomXDomain[1]} y1={bottomYDomain[0]} y2={bottomYDomain[1]} fill="none" fillOpacity={0} stroke={BLACK} strokeWidth={1} ifOverflow="visible" />
        </ComposedChart>
      </div>

      {/* bottom legend */}
      <div style={{ position: 'absolute', left: 265, top: 1468, width: 805, height: 26, border: '1px solid #d0d0d0', borderRadius: 3, background: '#fff' }}>
        <LegendX left={21} />
        <div style={{ ...legendText, left: 48 }}>{bottomLegendLabels[0]}</div>
        <LegendLine left={301} color={RED} />
        <div style={{ ...legendText, left: 344 }}>{bottomLegendLabels[1]}</div>
        <LegendLine left={570} color={BLACK} />
        <div style={{ ...legendText, left: 613 }}>{bottomLegendLabels[2]}</div>
      </div>
    </div>
  );
}
